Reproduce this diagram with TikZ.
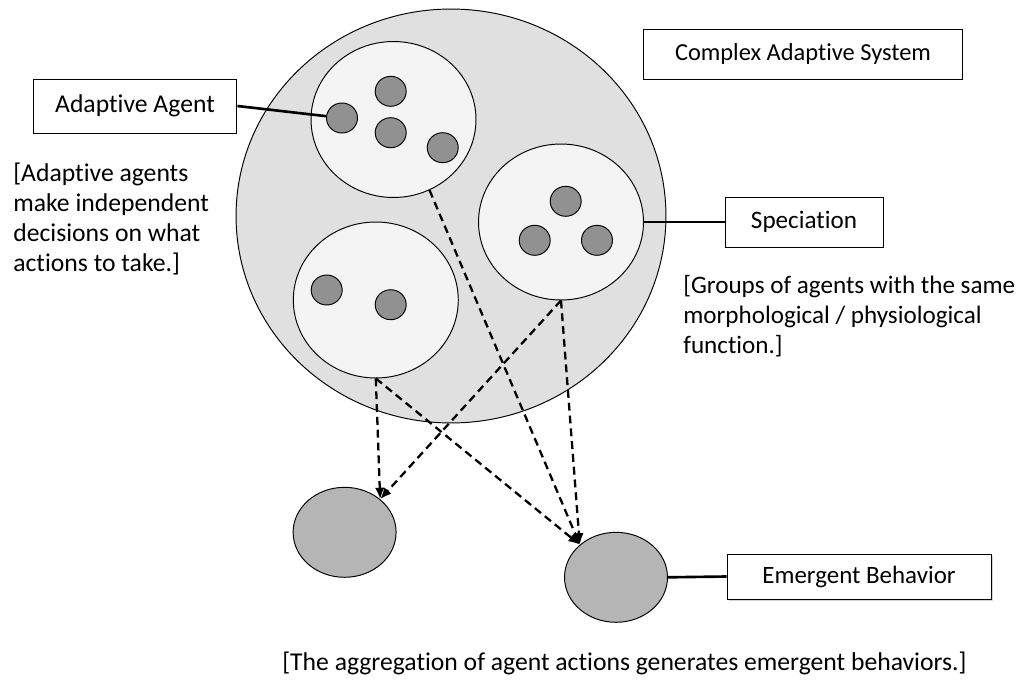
\documentclass[tikz,border=0pt]{standalone}
\usepackage{fontspec}
\setmainfont{Carlito}[Ligatures=NoCommon]
\usetikzlibrary{shapes.geometric,arrows.meta,shadows}
\newcommand{\fs}[2]{\fontsize{#1}{#2}\selectfont}
\begin{document}
\begin{tikzpicture}[x=0.02cm,y=-0.02cm,
  blob/.style={ellipse,draw=black,line width=0.55pt,inner sep=0pt},
  bigc/.style={blob,fill=bigfill},
  group/.style={blob,fill=groupfill,minimum width=3.3cm,minimum height=3.12cm},
  agent/.style={blob,fill=agentfill,minimum width=0.62cm,minimum height=0.6cm},
  emerg/.style={blob,fill=emergfill,minimum width=2.06cm,minimum height=1.8cm},
  label/.style={draw=black,line width=0.55pt,fill=white,inner sep=0pt},
  link/.style={line width=1.5pt},
  flow/.style={line width=1.3pt,dash pattern=on 4.5pt off 2.8pt,-{Latex[length=6.5pt,width=5.5pt]}},
  note/.style={align=left,inner sep=0pt,anchor=north west}]
\definecolor{bigfill}{gray}{0.88}
\definecolor{groupfill}{gray}{0.957}
\definecolor{agentfill}{gray}{0.57}
\definecolor{emergfill}{gray}{0.71}
\useasboundingbox (0,0) rectangle (1021,683);

% system
\node[bigc,minimum width=8.6cm,minimum height=8.28cm] (S) at (451,216) {};

% groups
\node[group] (A) at (393.5,119.5) {};
\node[group] (B) at (561,222) {};
\node[group] (C) at (375.8,300) {};

% agents
\node[agent] (a1) at (342,118) {};
\node[agent] (a2) at (390.7,91.3) {};
\node[agent] (a3) at (390.7,132.7) {};
\node[agent] (a4) at (442.7,147.7) {};
\node[agent] (b1) at (565.7,201.3) {};
\node[agent] (b2) at (534.7,240.3) {};
\node[agent] (b3) at (597,240.3) {};
\node[agent] (c1) at (326.7,290) {};
\node[agent] (c2) at (390.7,304.7) {};

% emergent blobs
\node[emerg] (L) at (344.6,532.3) {};
\node[emerg] (R) at (616,577.3) {};

% labels
\node[label,minimum width=4.08cm,minimum height=1.08cm,font=\fs{14.6}{17}] (aa) at (135,106) {Adaptive Agent};
\node[label,minimum width=6.4cm,minimum height=1.0cm,font=\fs{13.9}{17}] (cas) at (803,54) {Complex Adaptive System};
\node[label,minimum width=3.16cm,minimum height=1.0cm,font=\fs{14.3}{17}] (sp) at (804,222) {Speciation};
\node[label,minimum width=5.28cm,minimum height=0.9cm,font=\fs{14.2}{17},
  drop shadow={shadow xshift=1.2pt,shadow yshift=-1.2pt,opacity=0.35}] (eb) at (859,576.5) {Emergent Behavior};

% notes
\node[note,font=\fs{14.6}{17}] (n1) at (13,163) {[Adaptive agents\\make independent\\decisions on what\\actions to take.]};
\node[note,font=\fs{14.3}{17}] (n2) at (683,275) {[Groups of agents with the same\\morphological / physiological\\function.]};
\node[note,font=\fs{14.6}{17}] (n3) at (282,652) {[The aggregation of agent actions generates emergent behaviors.]};

% connectors
\draw[link] (aa.east) -- (a1);
\draw[link] (B.east) -- (sp.west);
\draw[link] (R.east) -- (eb.west);

% flows
\draw[flow] (A.-63) -- (R.138);
\draw[flow] (C.south) -- (L.43);
\draw[flow] (C.south) -- (R.138);
\draw[flow] (B.south) -- (L.43);
\draw[flow] (B.south) -- (R.138);
\end{tikzpicture}
\end{document}
